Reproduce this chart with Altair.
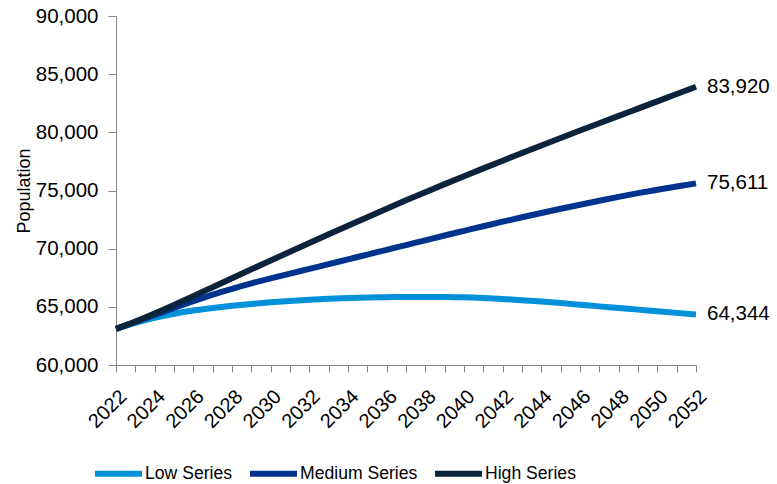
import altair as alt
import pandas as pd

years = list(range(2022, 2053))
low = [63100, 63620, 64050, 64400, 64680, 64900, 65090, 65250, 65390, 65510,
       65610, 65690, 65750, 65800, 65830, 65850, 65855, 65845, 65820, 65760,
       65680, 65570, 65450, 65320, 65180, 65040, 64900, 64760, 64620, 64480,
       64344]
medium = [63100, 63700, 64300, 64900, 65490, 66050, 66550, 67020, 67450, 67860,
          68260, 68670, 69080, 69490, 69900, 70310, 70720, 71130, 71530, 71930,
          72320, 72700, 73070, 73430, 73780, 74120, 74450, 74770, 75060, 75340,
          75611]
high = [63100, 63740, 64430, 65160, 65920, 66690, 67460, 68225, 68985, 69740,
        70490, 71235, 71975, 72710, 73438, 74158, 74858, 75548, 76228, 76900,
        77564, 78221, 78871, 79515, 80153, 80785, 81412, 82034, 82663, 83292,
        83920]
series_names = ["Low Series", "Medium Series", "High Series"]
series_colors = ["#0091DA", "#00338D", "#0C233C"]

rows = []
for name, vals in zip(series_names, [low, medium, high]):
    for y, v in zip(years, vals):
        rows.append({"Year": y, "Population": v, "Series": name})
df = pd.DataFrame(rows)

FONT = "Liberation Sans"

color = alt.Color(
    "Series:N",
    scale=alt.Scale(domain=series_names, range=series_colors),
    legend=alt.Legend(
        title=None,
        orient="none",
        direction="horizontal",
        legendX=-24,
        legendY=431,
        symbolType="stroke",
        symbolSize=2209,
        symbolStrokeWidth=6,
        labelFont=FONT,
        labelFontSize=17.6,
        labelColor="#000000",
        labelOffset=0,
        columnPadding=5,
    ),
)

x = alt.X(
    "Year:Q",
    scale=alt.Scale(domain=[2022, 2052], nice=False, zero=False),
    axis=alt.Axis(
        title=None,
        values=years,
        labelExpr="datum.value % 2 == 0 ? datum.value : ''",
        labelAngle=-45,
        labelAlign="right",
        labelBaseline="top",
        labelFont=FONT,
        labelFontSize=20,
        labelColor="#000000",
        labelPadding=14,
        labelOverlap=False,
        grid=False,
        domainColor="#888888",
        tickColor="#888888",
        tickSize=7,
    ),
)

y = alt.Y(
    "Population:Q",
    scale=alt.Scale(domain=[60000, 90000], nice=False, zero=False),
    axis=alt.Axis(
        title="Population",
        values=list(range(60000, 90001, 5000)),
        format=",.0f",
        labelFont=FONT,
        labelFontSize=20.5,
        labelColor="#000000",
        labelPadding=10,
        titleFont=FONT,
        titleFontSize=18,
        titleFontWeight="normal",
        titleColor="#000000",
        titleX=-83,
        grid=False,
        domainColor="#888888",
        tickColor="#888888",
        tickSize=8,
    ),
)

lines = alt.Chart(df).mark_line(
    strokeWidth=6, strokeCap="butt", interpolate="monotone"
).encode(x=x, y=y, color=color, order="Year:Q")

labels = alt.Chart(df).transform_filter(alt.datum.Year == 2052).mark_text(
    align="left", baseline="middle", dx=11, font=FONT, fontSize=20.5, color="#000000"
).encode(
    x=x,
    y=y,
    text=alt.Text("Population:Q", format=","),
)

chart = (
    alt.layer(lines, labels)
    .properties(
        width=580,
        height=349,
        autosize=alt.AutoSizeParams(type="none"),
        padding={"left": 116, "top": 16, "right": 81, "bottom": 119},
        background="white",
    )
    .configure_view(stroke=None)
)

chart.save("out.html", embed_options={"renderer": "svg", "actions": False})
